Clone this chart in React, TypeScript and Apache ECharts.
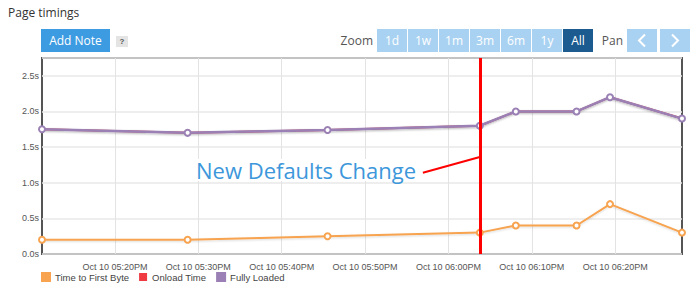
import React, { useEffect, useRef } from "react";
import * as echarts from "echarts";

const times = [
  "2016-10-10 17:11:15",
  "2016-10-10 17:28:43",
  "2016-10-10 17:45:30",
  "2016-10-10 18:03:46",
  "2016-10-10 18:08:05",
  "2016-10-10 18:15:22",
  "2016-10-10 18:19:23",
  "2016-10-10 18:28:01",
];
const timeToFirstByte = [0.2, 0.2, 0.25, 0.3, 0.4, 0.4, 0.7, 0.3];
const onloadTime = [1.75, 1.7, 1.74, 1.8, 2.0, 2.0, 2.2, 1.9];
const fullyLoaded = [1.75, 1.7, 1.74, 1.8, 2.0, 2.0, 2.2, 1.9];
const xTickTimes = [
  "2016-10-10 17:20:00",
  "2016-10-10 17:30:00",
  "2016-10-10 17:40:00",
  "2016-10-10 17:50:00",
  "2016-10-10 18:00:00",
  "2016-10-10 18:10:00",
  "2016-10-10 18:20:00",
];
const changeTime = "2016-10-10 18:03:46";
const annotationStart = ["2016-10-10 17:56:56", 1.14];
const annotationEnd = ["2016-10-10 18:03:46", 1.36];
const annotationText = "New Defaults Change";
const zoomButtons = ["1d", "1w", "1m", "3m", "6m", "1y", "All"];
const seriesNames = ["Time to First Byte", "Onload Time", "Fully Loaded"];

const MONTHS = ["Jan", "Feb", "Mar", "Apr", "May", "Jun", "Jul", "Aug", "Sep", "Oct", "Nov", "Dec"];
const parseT = (s: string) => {
  const [d, t] = s.split(" ");
  const [y, m, dd] = d.split("-").map(Number);
  const [h, mi, se] = t.split(":").map(Number);
  return new Date(y, m - 1, dd, h, mi, se).getTime();
};
const pad = (n: number) => (n < 10 ? "0" + n : "" + n);
const fmtTime = (v: number) => {
  const d = new Date(v);
  let h = d.getHours();
  const ap = h >= 12 ? "PM" : "AM";
  h = h % 12;
  if (h === 0) h = 12;
  return `${MONTHS[d.getMonth()]} ${d.getDate()} ${pad(h)}:${pad(d.getMinutes())}${ap}`;
};

const ORANGE = "#f7a34f";
const RED = "#ee3a40";
const PURPLE = "#9a80b4";
const FONT = "'Liberation Sans', Arial, sans-serif";
const UIFONT = "'Open Sans', 'Noto Sans', sans-serif";

export default function App() {
  const ref = useRef<HTMLDivElement>(null);
  useEffect(() => {
    if (!ref.current) return;
    const chart = echarts.init(ref.current, null, { renderer: "svg" });
    const xs = times.map(parseT);
    const mk = (vals: number[]) => vals.map((v, i) => [xs[i], v]);
    const tickVals = xTickTimes.map(parseT);

    const graphic: any[] = [
      { type: "text", left: 8, top: 6, style: { text: "Page timings", fill: "#333", font: `12px ${UIFONT}` } },
      { type: "rect", shape: { x: 41, y: 29, width: 69, height: 23 }, style: { fill: "#3d9be1" } },
      { type: "text", x: 75.5, y: 40.5, style: { text: "Add Note", fill: "#fff", font: `12px ${UIFONT}`, align: "center", verticalAlign: "middle" } },
      { type: "rect", shape: { x: 116, y: 36, width: 12, height: 11 }, style: { fill: "#e4e4e4" } },
      { type: "text", x: 122, y: 41.5, style: { text: "?", fill: "#555", font: `bold 8px ${FONT}`, align: "center", verticalAlign: "middle" } },
      { type: "text", x: 373, y: 40.5, style: { text: "Zoom", fill: "#555", font: `12px ${UIFONT}`, align: "right", verticalAlign: "middle" } },
      { type: "text", x: 623, y: 40.5, style: { text: "Pan", fill: "#555", font: `12px ${UIFONT}`, align: "right", verticalAlign: "middle" } },
    ];
    zoomButtons.forEach((b, i) => {
      const x = 377 + i * 31;
      const active = b === "All";
      graphic.push({ type: "rect", shape: { x, y: 29, width: 30, height: 23 }, style: { fill: active ? "#1c5b8f" : "#a9d2f2" } });
      graphic.push({ type: "text", x: x + 15, y: 40.5, style: { text: b, fill: "#fff", font: `12px ${UIFONT}`, align: "center", verticalAlign: "middle" } });
    });
    [627, 660].forEach((x, i) => {
      graphic.push({ type: "rect", shape: { x, y: 29, width: 30, height: 23 }, style: { fill: "#a9d2f2" } });
      const cx = x + 15;
      const pts = i === 0 ? [[cx + 3, 34.5], [cx - 3, 40.5], [cx + 3, 46.5]] : [[cx - 3, 34.5], [cx + 3, 40.5], [cx - 3, 46.5]];
      graphic.push({ type: "polyline", shape: { points: pts }, style: { stroke: "#fff", lineWidth: 2, fill: "none" } });
    });
    graphic.push({
      type: "text",
      left: 193,
      top: 159,
      z: 10,
      style: {
        text: annotationText,
        fill: "#3d97db",
        font: `22px ${UIFONT}`,
        backgroundColor: "#fff",
        padding: [0, 3, 0, 3],
      },
    });

    chart.setOption({
      animation: false,
      textStyle: { fontFamily: FONT },
      grid: { left: 42, right: 16, top: 58, bottom: 39, show: true, borderColor: "#555", borderWidth: 2, backgroundColor: "transparent" },
      legend: {
        left: 41,
        top: 272,
        padding: 0,
        icon: "rect",
        itemWidth: 8,
        itemHeight: 8,
        itemGap: 10,
        textStyle: { fontSize: 9.5, color: "#444", fontFamily: FONT },
        data: seriesNames,
      },
      xAxis: {
        type: "value",
        min: xs[0],
        max: xs[xs.length - 1],
        axisLine: { show: false },
        axisTick: { show: false, customValues: tickVals },
        axisLabel: { customValues: tickVals, formatter: (v: number) => fmtTime(v), fontSize: 9, color: "#555", margin: 8 },
        splitLine: { show: true, lineStyle: { color: "#e3e3e3", width: 1 } },
      },
      yAxis: {
        type: "value",
        min: 0,
        max: 2.75,
        interval: 0.5,
        axisLine: { show: false },
        axisTick: { show: false },
        axisLabel: { formatter: (v: number) => v.toFixed(1) + "s", fontSize: 9, color: "#555", margin: 3, showMaxLabel: false },
        splitLine: { show: true, lineStyle: { color: "#e8e8e8", width: 1.5 } },
      },
      series: [
        {
          name: seriesNames[0],
          type: "line",
          data: mk(timeToFirstByte),
          color: ORANGE,
          symbol: "emptyCircle",
          symbolSize: 6,
          lineStyle: { color: ORANGE, width: 2, shadowColor: "rgba(0,0,0,0.15)", shadowBlur: 2, shadowOffsetY: 1 },
          itemStyle: { borderWidth: 1.5, color: ORANGE, borderColor: ORANGE },
          z: 3,
          markLine: {
            silent: true,
            symbol: "none",
            label: { show: false },
            data: [
              [
                { coord: [parseT(annotationStart[0] as string), annotationStart[1]] },
                { coord: [parseT(annotationEnd[0] as string), annotationEnd[1]] },
              ],
            ],
            lineStyle: { color: "#ff0000", width: 2, type: "solid" },
          },
        },
        {
          name: seriesNames[1],
          type: "line",
          data: mk(onloadTime),
          color: RED,
          symbol: "none",
          lineStyle: { color: RED, width: 2 },
          itemStyle: { color: RED },
          z: 2,
          markLine: {
            silent: true,
            symbol: "none",
            label: { show: false },
            data: [{ xAxis: parseT(changeTime) }],
            lineStyle: { color: "#ff0000", width: 3, type: "solid" },
          },
        },
        {
          name: seriesNames[2],
          type: "line",
          data: mk(fullyLoaded),
          color: PURPLE,
          symbol: "emptyCircle",
          symbolSize: 6,
          lineStyle: { color: PURPLE, width: 2.5, shadowColor: "rgba(0,0,0,0.3)", shadowBlur: 2, shadowOffsetY: 1 },
          itemStyle: { borderWidth: 1.5, color: PURPLE, borderColor: PURPLE },
          z: 4,
        },
      ],
      graphic,
    });
    return () => chart.dispose();
  }, []);
  return <div ref={ref} style={{ position: "absolute", left: 0, top: 0, width: 698, height: 293 }} />;
}
